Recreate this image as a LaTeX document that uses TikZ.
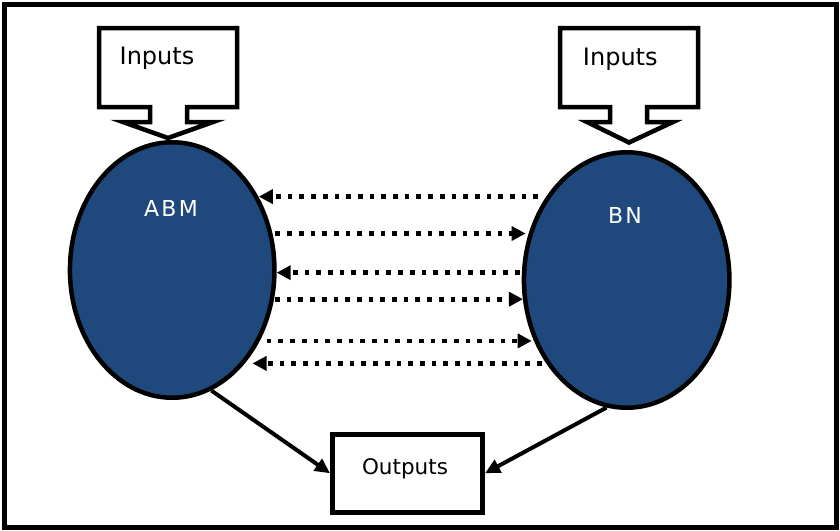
\documentclass[tikz,border=0pt]{standalone}
\usepackage{fontspec}
\setmainfont{DejaVu Sans}
\newfontfamily\spacedfont[LetterSpace=10]{DejaVu Sans}
\usetikzlibrary{arrows.meta,shapes.geometric}
\definecolor{modelblue}{HTML}{1F497D}
\begin{document}
\begin{tikzpicture}[x=1pt,y=-1pt,
  model/.style={ellipse, draw, line width=4.5pt, fill=modelblue, inner sep=0pt},
  callout/.style={draw, line width=4.5pt, fill=white, line join=miter},
  flow/.style={line width=4.7pt, dash pattern=on 4.7pt off 7pt,
    -{Triangle[length=14pt,width=14pt]}},
  link/.style={line width=4pt, -{Triangle[length=15pt,width=14pt]}},
  inlabel/.style={anchor=base, font=\fontsize{24}{28}\selectfont},
  modlabel/.style={anchor=base, text=white, font=\spacedfont\fontsize{22}{26}\selectfont},
  ]
\useasboundingbox (0,0) rectangle (840,530);
% frame
\draw[line width=5pt] (4,4) rectangle (836,527);

% the two models
\node[model, minimum width=204.5pt, minimum height=255.5pt] (abm) at (172.2,270) {};
\node[model, minimum width=205.5pt, minimum height=255.5pt] (bn) at (626.7,280) {};

% input callouts
\draw[callout] (99,28) -- (237,28) -- (237,107) -- (187,107) -- (187,122)
  -- (213,122) -- (168,138) -- (123,122) -- (150,122) -- (150,107) -- (99,107) -- cycle;
\draw[callout] (560,28) -- (698,28) -- (698,107) -- (647,107) -- (647,122)
  -- (673,122) -- (629,142.5) -- (587,122) -- (610,122) -- (610,107) -- (560,107) -- cycle;
\node[inlabel] (inL) at (157,64.3) {Inputs};
\node[inlabel] (inR) at (620.3,65) {Inputs};

% model labels
\node[modlabel] (abmlabel) at (171,216) {ABM};
\node[modlabel] (bnlabel) at (625,223.3) {BN};

% outputs
\node[draw, line width=5pt, minimum width=150pt, minimum height=78.5pt, inner sep=0pt]
  (out) at (407.5,473.25) {};
\node[anchor=base, font=\fontsize{21.5}{26}\selectfont] (outlabel) at (405,474.3) {Outputs};

% exchanges between the models
\draw[flow, shorten <=8pt] (bn.134.23) -- (abm.40.16 |- bn.134.23);
\draw[flow, shorten <=3pt, shorten >=4pt] (abm.20.82) -- (bn.153.81 |- abm.20.82);
\draw[flow, shorten <=2pt] (bn.176.73) -- (abm.-2.19 |- bn.176.73);
\draw[flow, shorten <=1pt] (abm.-16.98) -- (bn.191.46 |- abm.-16.98);
\draw[flow, shorten <=7pt, shorten >=2pt] (abm.-39.06) -- (bn.213.35 |- abm.-39.06);
\draw[flow, shorten <=4.5pt, shorten >=7.5pt] (bn.226.36) -- (abm.-52.48 |- bn.226.36);

% results
\draw[link] (abm.-72.3) -- (out.west);
\draw[link] (bn.261.4) -- (out.east);
\end{tikzpicture}
\end{document}
